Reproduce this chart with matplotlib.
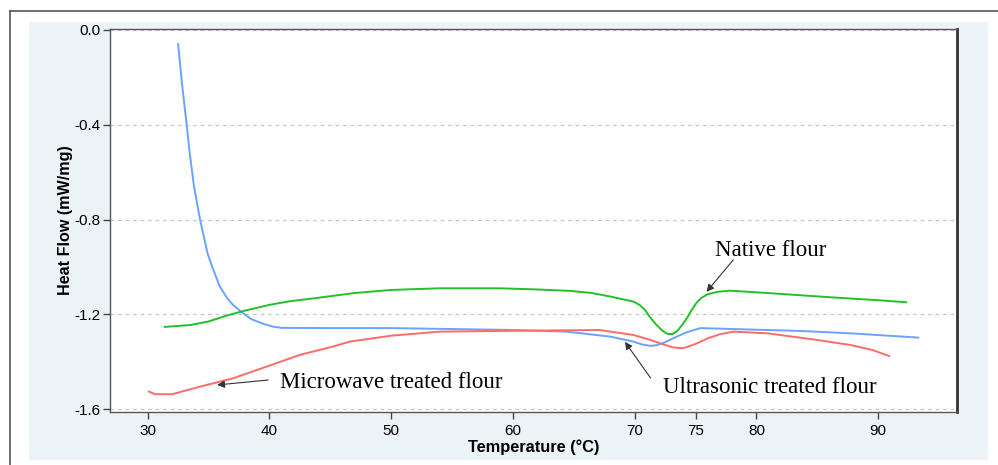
import matplotlib
matplotlib.use("Agg")
import matplotlib.pyplot as plt
from matplotlib.patches import Rectangle
from matplotlib.lines import Line2D

# Ultrasonic treated flour (blue)
ultra_T = [32.5, 32.8, 33.2, 33.45, 33.8, 34.3, 34.6, 34.9, 35.3, 35.6, 35.9, 36.5, 37.0, 37.7,
           38.5, 39.5, 40.3, 41.0, 45, 50, 55, 60, 64.4, 68, 69.9, 70.6, 71.3, 71.8, 72.3, 73.2,
           74.3, 75.4, 78.1, 83.6, 87.7, 93.3]
ultra_v = [-0.06, -0.22, -0.40, -0.52, -0.66, -0.80, -0.87, -0.94, -1.00, -1.04, -1.08, -1.13,
           -1.16, -1.19, -1.22, -1.24, -1.252, -1.257, -1.258, -1.258, -1.262, -1.266, -1.273,
           -1.294, -1.315, -1.327, -1.333, -1.33, -1.322, -1.30, -1.275, -1.258, -1.262, -1.27,
           -1.28, -1.298]

# Native flour (green)
native_T = [31.4, 33.5, 35, 36.5, 38, 40, 41.5, 44, 47, 50, 54, 58.9, 62, 64.7, 66.5, 68, 69.9,
            70.4, 70.9, 71.3, 71.8, 72.3, 72.7, 73.1, 73.5, 73.9, 74.3, 74.7, 75.1, 75.5, 76.0,
            76.8, 77.8, 80.9, 86.4, 89.9, 92.3]
native_v = [-1.253, -1.245, -1.23, -1.205, -1.184, -1.16, -1.146, -1.13, -1.11, -1.097, -1.09,
            -1.09, -1.095, -1.101, -1.11, -1.125, -1.146, -1.16, -1.185, -1.215, -1.245, -1.27,
            -1.283, -1.283, -1.27, -1.245, -1.215, -1.18, -1.15, -1.13, -1.115, -1.105, -1.10,
            -1.11, -1.129, -1.14, -1.149]

# Microwave treated flour (red)
micro_T = [30.1, 30.6, 32, 34.3, 37, 39.8, 42.5, 45.2, 46.6, 50, 54, 58.9, 63, 67.1, 69.9, 71.3,
           72.3, 73.2, 74, 75, 76, 77, 78.1, 80.9, 85, 87.7, 89.5, 90.9]
micro_v = [-1.526, -1.537, -1.537, -1.505, -1.47, -1.42, -1.371, -1.336, -1.315, -1.29, -1.273,
           -1.27, -1.268, -1.266, -1.287, -1.308, -1.326, -1.34, -1.343, -1.325, -1.301, -1.284,
           -1.273, -1.28, -1.308, -1.329, -1.35, -1.376]

x_ticks = [30, 40, 50, 60, 70, 75, 80, 90]
y_ticks = [0.0, -0.4, -0.8, -1.2, -1.6]
y_ticklabels = ["0.0", "-0.4", "-0.8", "-1.2", "-1.6"]

fig = plt.figure(figsize=(9.98, 4.65), dpi=100)
fig.patch.set_facecolor("white")

# light blue panel
fig.add_artist(Rectangle((0.029, 0.0108), 0.961, 0.942, transform=fig.transFigure,
                         facecolor="#ECF3F7", edgecolor="none", zorder=-5))
# outer frame lines (left and top)
fig.add_artist(Line2D([10/998, 10/998], [0, 1 - 11/465], transform=fig.transFigure,
                      color="#555555", lw=1.2, zorder=-4))
fig.add_artist(Line2D([10/998, 1], [1 - 11/465, 1 - 11/465], transform=fig.transFigure,
                      color="#555555", lw=1.2, zorder=-4))

ax = fig.add_axes([0.1102, 0.114, 0.849, 0.8236])
ax.set_zorder(1)
ax.set_facecolor("white")

ax.plot(ultra_T, ultra_v, color="#6AA3FF", lw=1.4)
ax.plot(native_T, native_v, color="#22C02A", lw=1.4)
ax.plot(micro_T, micro_v, color="#FF6A6A", lw=1.4)

ax.set_xlim(26.9, 96.5)
ax.set_ylim(-1.612, 0.004)
ax.set_xticks(x_ticks)
ax.set_xticklabels([str(t) for t in x_ticks], fontsize=11, family="Liberation Sans")
ax.set_yticks(y_ticks)
ax.set_yticklabels(y_ticklabels, fontsize=11, family="Liberation Sans")
ax.tick_params(axis="both", direction="out", length=5, width=1, color="#444444", pad=4)
ax.tick_params(axis="y", pad=2)
ax.yaxis.grid(True, linestyle=(0, (3, 3)), color="#C8C8C8", lw=0.9)
ax.set_axisbelow(True)

for s in ["left", "bottom", "top"]:
    ax.spines[s].set_color("#555555")
    ax.spines[s].set_linewidth(1.0)
ax.spines["right"].set_color("#333333")
ax.spines["right"].set_linewidth(2.0)

ax.set_ylabel("Heat Flow (mW/mg)", fontsize=11.6, fontweight="bold", family="Liberation Sans")
ax.yaxis.set_label_coords(-0.044, 0.5)
ax.set_xlabel("Temperature (°C)", fontsize=11.8, fontweight="bold", family="Liberation Sans", labelpad=1)

arrow = dict(arrowstyle="-|>", color="#333333", lw=0.8, mutation_scale=11, shrinkA=0, shrinkB=0)
tfont = dict(fontsize=16.5, family="Liberation Serif", ha="center", va="center")

ax.text(81.2, -0.93, "Native flour", **tfont)
ax.annotate("", xy=(75.9, -1.105), xytext=(78.1, -0.97), arrowprops=arrow)

ax.text(81.1, -1.51, "Ultrasonic treated flour", **tfont)
ax.annotate("", xy=(69.2, -1.316), xytext=(71.3, -1.468), arrowprops=arrow)

ax.text(50.0, -1.489, "Microwave treated flour", **tfont)
ax.annotate("", xy=(35.7, -1.498), xytext=(39.9, -1.477), arrowprops=arrow)

fig.savefig("out.png", dpi=100)
